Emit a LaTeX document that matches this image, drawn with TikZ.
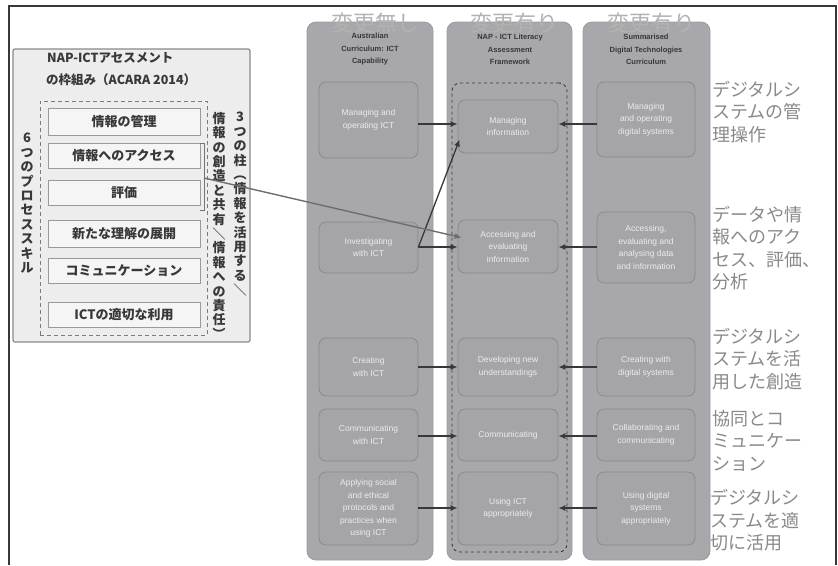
\documentclass[tikz,border=0pt]{standalone}
\usepackage{fontspec}
\setmainfont{Liberation Sans}
\newfontfamily\jp{Noto Sans CJK JP}
\usetikzlibrary{arrows.meta,calc}
\definecolor{colfill}{HTML}{A8A8AC}
\definecolor{colline}{HTML}{9A9A9E}
\definecolor{boxfill}{HTML}{A5A5A9}
\definecolor{boxline}{HTML}{8A8A8E}
\definecolor{boxtext}{HTML}{ECECEC}
\definecolor{hdrgray}{HTML}{B2B2B2}
\definecolor{sidegray}{HTML}{8A8A8A}
\definecolor{lbfill}{HTML}{EDEDED}
\definecolor{lbline}{HTML}{8A8A8A}
\definecolor{ibfill}{HTML}{F5F5F5}
\definecolor{ibline}{HTML}{9A9A9A}
\definecolor{darkc}{HTML}{383838}
\definecolor{greyarrow}{HTML}{6E6E6E}
\newcommand\jpvr[1]{\rotatebox[origin=c]{-90}{#1}}
\begin{document}
\begin{tikzpicture}[x=1pt,y=-1pt,
  colbox/.style={draw=colline, fill=colfill, rounded corners=9pt, line width=0.8pt, inner sep=0pt},
  ibox/.style={draw=boxline, fill=boxfill, rounded corners=7pt, line width=0.8pt, inner sep=0pt, align=center, text=boxtext, font=\fontsize{8.5}{12.5}\selectfont},
  hdr/.style={text=hdrgray, font=\jp\fontsize{22}{22}\selectfont, inner sep=0pt},
  ctitle/.style={text=darkc, align=center, inner sep=0pt, font=\bfseries\fontsize{7.5}{12.5}\selectfont},
  rtext/.style={anchor=west, align=left, text=sidegray, inner sep=0pt, font=\jp\fontsize{18}{22.5}\selectfont},
  ibx/.style={draw=ibline, fill=ibfill, line width=1pt, minimum width=152pt, inner sep=0pt, text=darkc, font=\jp\bfseries\fontsize{13}{13}\selectfont},
  ttl/.style={anchor=west, inner sep=0pt, text=darkc, font=\jp\bfseries\fontsize{12.5}{12.5}\selectfont},
  vtxt/.style={anchor=north, align=center, inner sep=0pt, text=darkc, font=\jp\bfseries\fontsize{13}{14.4}\selectfont},
  arr/.style={draw=darkc, line width=1.3pt, -{Latex[length=7pt,width=6pt]}},
  garr/.style={draw=greyarrow, line width=1.4pt, -{Latex[length=7pt,width=6pt]}}
]
\useasboundingbox (0,0) rectangle (838,565);
\fill[white] (0,0) rectangle (838,565);
% frame
\draw[darkc, line width=2pt] (9,565) -- (9,6) -- (836,6) -- (836,565);

% columns
\node[colbox, minimum width=126pt, minimum height=538pt] (col1) at (370,291) {};
\node[colbox, minimum width=125pt, minimum height=538pt] (col2) at (509.5,291) {};
\node[colbox, minimum width=127pt, minimum height=538pt] (col3) at (646.5,291) {};

% headers
\node[hdr] (h1) at (375,23) {変更無し};
\node[hdr] (h2) at (514,23) {変更有り};
\node[hdr] (h3) at (651,23) {変更有り};

% column titles
\node[ctitle] (t1) at (370,49.5) {Australian\\Curriculum: ICT\\Capability};
\node[ctitle] (t2) at (510,49.5) {NAP - ICT Literacy\\Assessment\\Framework};
\node[ctitle] (t3) at (646,49.5) {Summarised\\Digital Technologies\\Curriculum};

% dashed frame in column 2
\node[draw=darkc, dash pattern=on 3pt off 3pt, rounded corners=8pt, line width=0.9pt, minimum width=115pt, minimum height=469pt, inner sep=0pt] (f2) at (509.5,317.5) {};

% column 1 boxes
\node[ibox, minimum width=99pt, minimum height=76pt] (c1r1) at (368.5,120) {Managing and\\operating ICT};
\node[ibox, minimum width=99pt, minimum height=51pt] (c1r2) at (368.5,247.5) {Investigating\\with ICT};
\node[ibox, minimum width=99pt, minimum height=58pt] (c1r3) at (368.5,367) {Creating\\with ICT};
\node[ibox, minimum width=99pt, minimum height=52pt] (c1r4) at (368.5,435) {Communicating\\with ICT};
\node[ibox, minimum width=99pt, minimum height=73pt] (c1r5) at (368.5,508.5) {Applying social\\and ethical\\protocols and\\practices when\\using ICT};

% column 2 boxes
\node[ibox, minimum width=100pt, minimum height=53pt] (c2r1) at (508,126.5) {Managing\\information};
\node[ibox, minimum width=100pt, minimum height=53pt] (c2r2) at (508,246.5) {Accessing and\\evaluating\\information};
\node[ibox, minimum width=100pt, minimum height=58pt] (c2r3) at (508,367) {Developing new\\understandings};
\node[ibox, minimum width=100pt, minimum height=52pt] (c2r4) at (508,435) {Communicating};
\node[ibox, minimum width=100pt, minimum height=73pt] (c2r5) at (508,508.5) {Using ICT\\appropriately};

% column 3 boxes
\node[ibox, minimum width=98pt, minimum height=75pt] (c3r1) at (646,119.5) {Managing\\and operating\\digital systems};
\node[ibox, minimum width=98pt, minimum height=71pt] (c3r2) at (646,247.5) {Accessing,\\evaluating and\\analysing data\\and information};
\node[ibox, minimum width=98pt, minimum height=58pt] (c3r3) at (646,367) {Creating with\\digital systems};
\node[ibox, minimum width=98pt, minimum height=52pt] (c3r4) at (646,435) {Collaborating and\\communicating};
\node[ibox, minimum width=98pt, minimum height=73pt] (c3r5) at (646,508.5) {Using digital\\systems\\appropriately};

% row levels
\coordinate (y1) at (0,124);
\coordinate (y2) at (0,247);
\coordinate (y3) at (0,367);
\coordinate (y4) at (0,436);
\coordinate (y5) at (0,508);

\draw[arr] (c1r1.east |- y1) -- (c2r1.west |- y1);
\draw[arr] (c1r2.east |- y2) -- (c2r2.west |- y2);
\draw[arr] (c1r3.east |- y3) -- (c2r3.west |- y3);
\draw[arr] (c1r4.east |- y4) -- (c2r4.west |- y4);
\draw[arr] (c1r5.east |- y5) -- (c2r5.west |- y5);
\draw[arr] (c3r1.west |- y1) -- (c2r1.east |- y1);
\draw[arr] (c3r2.west |- y2) -- (c2r2.east |- y2);
\draw[arr] (c3r3.west |- y3) -- (c2r3.east |- y3);
\draw[arr] (c3r4.west |- y4) -- (c2r4.east |- y4);
\draw[arr] (c3r5.west |- y5) -- (c2r5.east |- y5);
\draw[arr] (c1r2.east |- y2) -- ($(c2r1.south west)+(2,-14)$);

% right-side Japanese texts
\node[rtext] (j1) at (712,112) {デジタルシ\\ステムの管\\理操作};
\node[rtext] (j2) at (712,248) {データや情\\報へのアク\\セス、評価、\\分析};
\node[rtext] (j3) at (712,359) {デジタルシ\\ステムを活\\用した創造};
\node[rtext] (j4) at (712,440.5) {協同とコ\\ミュニケー\\ション};
\node[rtext] (j5) at (710,520.5) {デジタルシ\\ステムを適\\切に活用};

% left box
\node[draw=lbline, fill=lbfill, line width=1.2pt, rounded corners=2pt, minimum width=237pt, minimum height=293pt, inner sep=0pt] (lbox) at (131.5,195.5) {};
\node[draw=ibline!80!black, dash pattern=on 4pt off 3pt, line width=1pt, minimum width=167pt, minimum height=234pt, inner sep=0pt] (lds) at (123.5,218) {};
\node[ttl] (ttl1) at (47,58) {NAP-ICTアセスメント};
\node[ttl] (ttl2) at (46,80) {の枠組み（ACARA 2014）};

\node[ibx, minimum height=27pt] (b1) at (124,121.5) {情報の管理};
\node[ibx, minimum height=25pt] (b2) at (124,155.5) {情報へのアクセス};
\node[ibx, minimum height=25pt] (b3) at (124,192.5) {評価};
\node[ibx, minimum height=27pt] (b4) at (124,233.5) {新たな理解の展開};
\node[ibx, minimum height=25pt] (b5) at (124,270.5) {コミュニケーション};
\node[ibx, minimum height=25pt] (b6) at (124,314.5) {ICTの適切な利用};

\node[vtxt] (v6) at (27,133) {6\\つ\\の\\プ\\ロ\\セ\\ス\\ス\\キ\\ル};
\node[vtxt] (vr) at (240,112) {3\\つ\\の\\柱\\\jpvr{（}\\情\\報\\を\\活\\用\\す\\る\\\jpvr{／}};
\node[vtxt] (vl) at (219,112) {情\\報\\の\\創\\造\\と\\共\\有\\\jpvr{／}\\情\\報\\へ\\の\\責\\任\\\jpvr{）}};

% bracket and grey arrow
\coordinate (bt) at (204,143);
\coordinate (bb) at (204,210);
\coordinate (bm) at (204,178);
\draw[darkc!70, line width=1pt] (200,143) -- (bt) -- (bb) -- (200,210);
\draw[garr] (bm) -- ($(c2r2.north west)+(4,18)$);
\end{tikzpicture}
\end{document}
